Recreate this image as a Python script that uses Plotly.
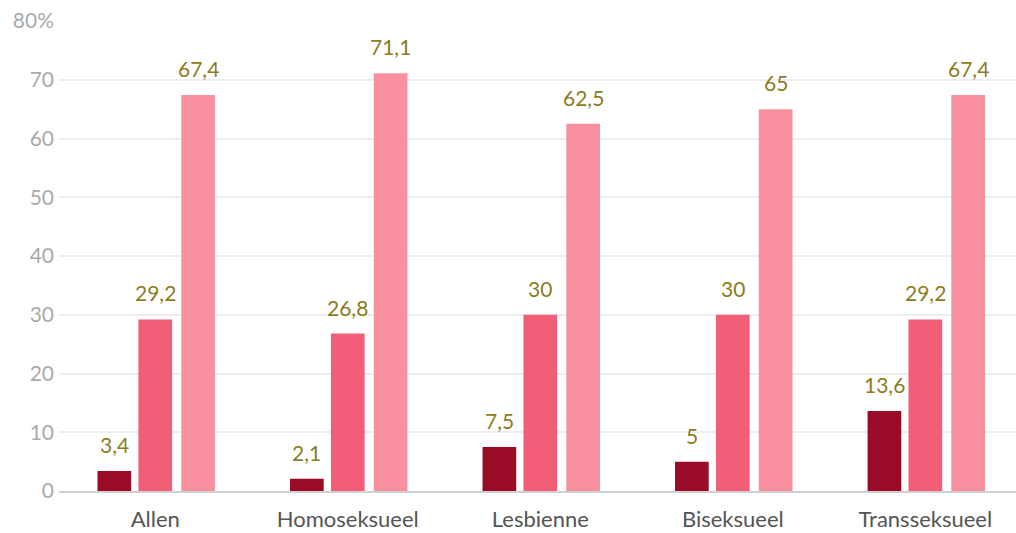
import plotly.graph_objects as go

categories = ["Allen", "Homoseksueel", "Lesbienne", "Biseksueel", "Transseksueel"]
series_a = [3.4, 2.1, 7.5, 5, 13.6]
series_b = [29.2, 26.8, 30, 30, 29.2]
series_c = [67.4, 71.1, 62.5, 65, 67.4]
y_ticks = [0, 10, 20, 30, 40, 50, 60, 70, 80]
y_tick_labels = ["0", "10", "20", "30", "40", "50", "60", "70", "80%"]

colors = ["#990b26", "#f25d78", "#f8909f"]
label_color = "#8b7c1e"
font_family = "Source Sans Pro, Lato, Noto Sans, sans-serif"
bar_width = 0.175
offsets = [-0.3, -0.0875, 0.135]

def fmt(v):
    return f"{v:g}".replace(".", ",")

x_idx = list(range(len(categories)))
fig = go.Figure()
for vals, col, off in zip([series_a, series_b, series_c], colors, offsets):
    fig.add_trace(go.Bar(
        x=x_idx, y=vals, marker=dict(color=col, line=dict(width=0)),
        width=bar_width, offset=off,
        hoverinfo="skip", showlegend=False,
    ))
    for xi, v in zip(x_idx, vals):
        fig.add_annotation(
            x=xi + off + bar_width / 2, y=v, xref="x", yref="y",
            text=fmt(v), showarrow=False, yanchor="bottom", yshift=12,
            font=dict(color=label_color, size=21, family=font_family),
        )

fig.update_layout(
    width=1016, height=533,
    margin=dict(l=59, r=0, t=21, b=42),
    plot_bgcolor="white", paper_bgcolor="white",
    barmode="overlay",
    font=dict(family=font_family),
)
fig.update_xaxes(
    tickmode="array", tickvals=x_idx, ticktext=categories,
    range=[-0.5, 4.471], showgrid=False, zeroline=False,
    showline=True, linecolor="#d0d0d0", linewidth=2,
    ticks="", ticklabelstandoff=8, automargin=False,
    tickfont=dict(size=22, color="#555555", family=font_family),
)
fig.update_yaxes(
    range=[0, 80], tickmode="array", tickvals=y_ticks, ticktext=y_tick_labels,
    showgrid=True, gridcolor="#eeeeee", gridwidth=2, zeroline=False,
    showline=False, ticks="", ticklabelstandoff=4, automargin=False,
    tickfont=dict(size=21, color="#aaaaaa", family=font_family),
)
fig.write_html("out.html", config={"displayModeBar": False},
               post_script="document.body.style.margin='0';")
